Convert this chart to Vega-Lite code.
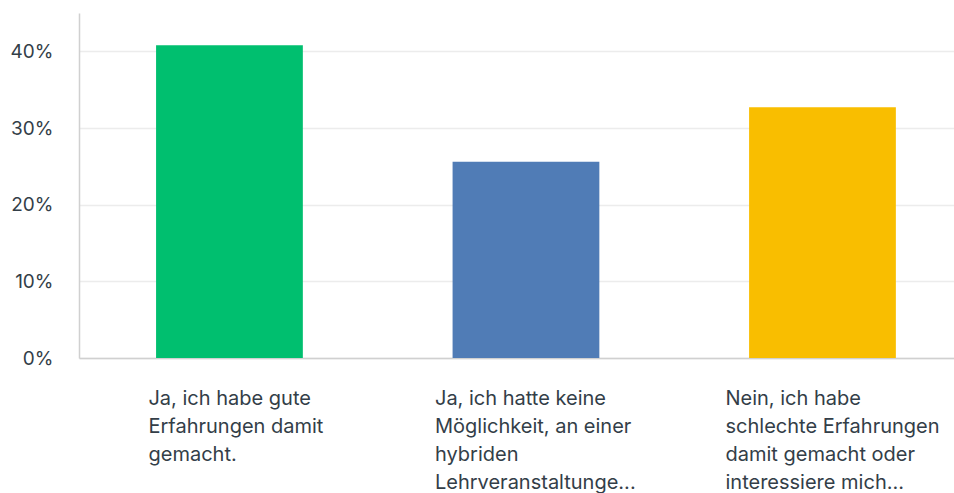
{
  "$schema": "https://vega.github.io/schema/vega-lite/v6.json",
  "autosize": {"type": "none"},
  "padding": {"left": 79, "top": 13, "right": 0, "bottom": 135},
  "width": 875,
  "height": 345,
  "background": "white",
  "config": {
    "view": {"stroke": null},
    "font": "Inter"
  },
  "data": {
    "values": [
      {"antwort": "Ja, ich habe gute\nErfahrungen damit\ngemacht.", "anteil": 40.8},
      {"antwort": "Ja, ich hatte keine\nMöglichkeit, an einer\nhybriden\nLehrveranstaltunge...", "anteil": 25.6},
      {"antwort": "Nein, ich habe\nschlechte Erfahrungen\ndamit gemacht oder\ninteressiere mich...", "anteil": 32.7}
    ]
  },
  "mark": {"type": "bar"},
  "encoding": {
    "x": {
      "field": "antwort",
      "type": "nominal",
      "sort": null,
      "scale": {"paddingInner": 0.505, "paddingOuter": 0.228, "align": 0.57},
      "axis": {
        "title": null,
        "labelAngle": 0,
        "labelExpr": "split(datum.label, '\\n')",
        "labelAlign": "left",
        "labelBaseline": "top",
        "labelPadding": 30,
        "labelLineHeight": 28.3,
        "labelFontSize": 20,
        "labelColor": "#333e48",
        "labelLimit": 400,
        "labelOffset": {
          "condition": [
            {"test": "indexof(datum.value, 'gute') >= 0", "value": -81},
            {"test": "indexof(datum.value, 'keine') >= 0", "value": -91}
          ],
          "value": -97
        },
        "ticks": false,
        "domainColor": "#d0d0d0",
        "domainWidth": 1.5,
        "grid": false
      }
    },
    "y": {
      "field": "anteil",
      "type": "quantitative",
      "scale": {"domain": [0, 45], "nice": false},
      "axis": {
        "title": null,
        "values": [0, 10, 20, 30, 40],
        "labelExpr": "datum.value + '%'",
        "labelFontSize": 19,
        "labelColor": "#333e48",
        "labelPadding": 26,
        "ticks": false,
        "domainColor": "#d0d0d0",
        "domainWidth": 1.5,
        "gridColor": "#ececec",
        "gridWidth": 1.5
      }
    },
    "color": {
      "field": "antwort",
      "type": "nominal",
      "sort": null,
      "scale": {"range": ["#00bf6f", "#507cb6", "#f9be00"]},
      "legend": null
    }
  }
}
